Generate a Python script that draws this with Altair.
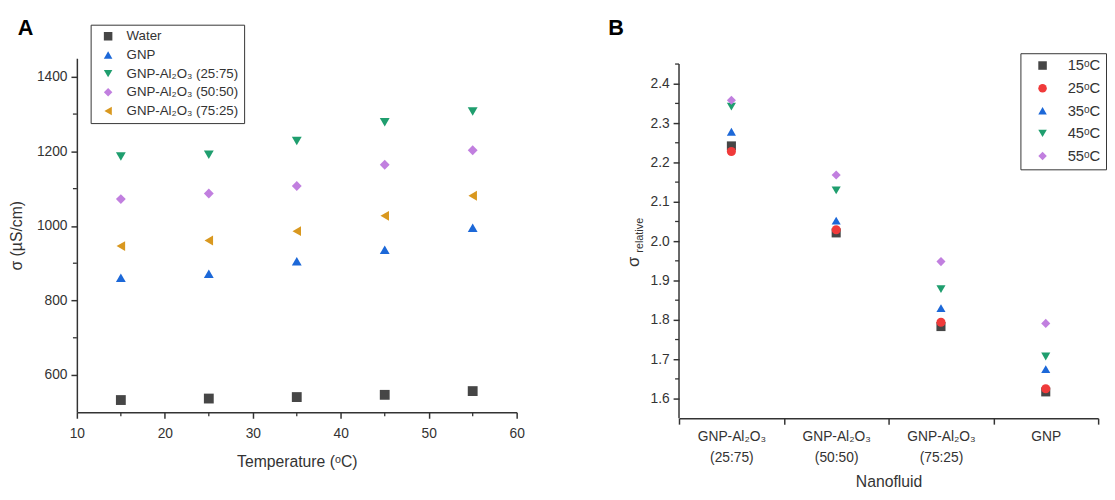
import altair as alt
import pandas as pd

# ---------------- Panel A data ----------------
temps = [15, 25, 35, 45, 55]
series_a = ["Water", "GNP", "GNP-Al₂O₃ (25:75)", "GNP-Al₂O₃ (50:50)", "GNP-Al₂O₃ (75:25)"]
water = [533, 537, 541, 547, 557]
gnp = [861, 872, 905, 936, 995]
gnp_25_75 = [1186, 1191, 1228, 1278, 1307]
gnp_50_50 = [1072, 1087, 1107, 1164, 1203]
gnp_75_25 = [946, 961, 986, 1027, 1081]
colors_a = ["#464646", "#1c68d8", "#1f9e6e", "#c17fdf", "#d9981f"]
shapes_a = ["square", "triangle-up", "triangle-down", "diamond", "triangle-left"]
x_ticks_a = [10, 20, 30, 40, 50, 60]
x_minor_a = [15, 25, 35, 45, 55]
y_ticks_a = [600, 800, 1000, 1200, 1400]
y_minor_a = [700, 900, 1100, 1300]

# ---------------- Panel B data ----------------
nanofluids = ["GNP-Al₂O₃|(25:75)", "GNP-Al₂O₃|(50:50)", "GNP-Al₂O₃|(75:25)", "GNP"]
temp_labels = ["15ᵒC", "25ᵒC", "35ᵒC", "45ᵒC", "55ᵒC"]
rel_15 = [2.242, 2.021, 1.783, 1.617]
rel_25 = [2.228, 2.029, 1.794, 1.625]
rel_35 = [2.278, 2.052, 1.830, 1.675]
rel_45 = [2.342, 2.129, 1.878, 1.707]
rel_55 = [2.358, 2.168, 1.948, 1.791]
colors_b = ["#464646", "#f03a3a", "#1c68d8", "#1f9e6e", "#c17fdf"]
shapes_b = ["square", "circle", "triangle-up", "triangle-down", "diamond"]
y_ticks_b = [1.6, 1.7, 1.8, 1.9, 2.0, 2.1, 2.2, 2.3, 2.4]
y_minor_b = [1.65, 1.75, 1.85, 1.95, 2.05, 2.15, 2.25, 2.35, 2.45]
y_axis_b = [1.55, 2.45]

FONT = "Liberation Sans"
INK = "#333333"

# ---------------- build tables ----------------
rows_a = []
for name, vals in zip(series_a, [water, gnp, gnp_25_75, gnp_50_50, gnp_75_25]):
    for t, v in zip(temps, vals):
        rows_a.append({"temp": t, "sigma": v, "series": name})
df_a = pd.DataFrame(rows_a)

rows_b = []
for lab, vals in zip(temp_labels, [rel_15, rel_25, rel_35, rel_45, rel_55]):
    for nf, v in zip(nanofluids, vals):
        rows_b.append({"nf": nf, "rel": v, "temp": lab})
df_b = pd.DataFrame(rows_b)

W_A, H_A = 447, 360
W_B, H_B = 426, 366

xs_a = alt.Scale(domain=[10, 60], nice=False, zero=False)
ys_a = alt.Scale(domain=[500, 1450], nice=False, zero=False)
ax_x_a = alt.Axis(values=x_ticks_a, title="Temperature (ᵒC)", format="d",
                  labelPadding=9, titlePadding=13, labelFlush=False)
ax_y_a = alt.Axis(values=y_ticks_a, title="σ (µS/cm)", format="d", titlePadding=12)

legend_a = alt.Legend(
    title=None, orient="none", legendX=14, legendY=-34,
    strokeColor=INK, fillColor="white", padding=5,
    labelFont=FONT, labelFontSize=13.5, labelColor=INK,
    symbolSize=75, symbolOffset=6, labelOffset=12, rowPadding=4,
    symbolStrokeWidth=0,
)

pts_a = alt.Chart(df_a).mark_point(filled=True, size=100, opacity=1).encode(
    x=alt.X("temp:Q", scale=xs_a, axis=ax_x_a),
    y=alt.Y("sigma:Q", scale=ys_a, axis=ax_y_a),
    color=alt.Color("series:N", scale=alt.Scale(domain=series_a, range=colors_a), legend=legend_a),
    shape=alt.Shape("series:N", scale=alt.Scale(domain=series_a, range=shapes_a), legend=legend_a),
)
minx_a = alt.Chart(pd.DataFrame({"temp": x_minor_a})).mark_rule(color=INK, strokeWidth=1.3).encode(
    x=alt.X("temp:Q", scale=xs_a, axis=ax_x_a), y=alt.value(H_A), y2=alt.value(H_A + 4))
miny_a = alt.Chart(pd.DataFrame({"sigma": y_minor_a})).mark_rule(color=INK, strokeWidth=1.3).encode(
    y=alt.Y("sigma:Q", scale=ys_a, axis=ax_y_a), x=alt.value(0), x2=alt.value(-4))
lab_a = alt.Chart(pd.DataFrame({"t": ["A"]})).mark_text(
    font=FONT, fontSize=22, fontWeight="bold", align="left", baseline="alphabetic", color="black"
).encode(text="t:N", x=alt.value(-60), y=alt.value(-24))

panel_a = alt.layer(pts_a, minx_a, miny_a, lab_a).properties(width=W_A, height=H_A)

# ---------------- Panel B ----------------
xs_b = alt.Scale(domain=nanofluids, paddingInner=0, paddingOuter=0)
ys_b = alt.Scale(domain=[1.55, 2.465], nice=False, zero=False)
ax_y_b = alt.Axis(values=y_ticks_b, title=None, format=".1f", domain=False)

legend_b = alt.Legend(
    title=None, orient="none", legendX=347, legendY=-5,
    strokeColor=INK, fillColor="white", padding=5,
    labelFont=FONT, labelFontSize=15, labelColor=INK,
    symbolSize=75, symbolOffset=10, labelOffset=18, rowPadding=7,
    symbolStrokeWidth=0,
)

pts_b = alt.Chart(df_b).mark_point(filled=True, size=85, opacity=1).encode(
    x=alt.X("nf:N", scale=xs_b, sort=nanofluids,
            axis=alt.Axis(title="Nanofluid", labelAngle=0, tickBand="extent",
                          labelExpr="split(datum.label, '|')", labelLineHeight=21,
                          labelPadding=6, titlePadding=9)),
    y=alt.Y("rel:Q", scale=ys_b, axis=ax_y_b),
    color=alt.Color("temp:N", scale=alt.Scale(domain=temp_labels, range=colors_b), legend=legend_b),
    shape=alt.Shape("temp:N", scale=alt.Scale(domain=temp_labels, range=shapes_b), legend=legend_b),
)
axis_line_b = alt.Chart(pd.DataFrame({"rel": [y_axis_b[0]], "rel2": [y_axis_b[1]]})).mark_rule(
    color=INK, strokeWidth=1.5).encode(
    y=alt.Y("rel:Q", scale=ys_b, axis=ax_y_b), y2="rel2:Q", x=alt.value(0))
miny_b = alt.Chart(pd.DataFrame({"rel": y_minor_b})).mark_rule(color=INK, strokeWidth=1.3).encode(
    y=alt.Y("rel:Q", scale=ys_b, axis=ax_y_b), x=alt.value(0), x2=alt.value(-4))
lab_b = alt.Chart(pd.DataFrame({"t": ["B"]})).mark_text(
    font=FONT, fontSize=22, fontWeight="bold", align="left", baseline="alphabetic", color="black"
).encode(text="t:N", x=alt.value(-72), y=alt.value(-24))
sig_b = alt.Chart(pd.DataFrame({"t": ["σ"]})).mark_text(
    font=FONT, fontSize=17, align="center", baseline="middle", angle=270, color=INK
).encode(text="t:N", x=alt.value(-46), y=alt.value(207))
sub_b = alt.Chart(pd.DataFrame({"t": ["relative"]})).mark_text(
    font=FONT, fontSize=11, align="center", baseline="middle", angle=270, color=INK
).encode(text="t:N", x=alt.value(-40), y=alt.value(180))

panel_b = alt.layer(pts_b, axis_line_b, miny_b, lab_b, sig_b, sub_b).properties(width=W_B, height=H_B)

chart = alt.hconcat(panel_a, panel_b, spacing=85).resolve_scale(
    color="independent", shape="independent"
).properties(
    padding={"left": 0, "top": 5, "right": 0, "bottom": 0}
).configure(font=FONT).configure_view(stroke=None).configure_axis(
    grid=False, domainColor=INK, domainWidth=1.5, tickColor=INK, tickWidth=1.5, tickSize=6,
    labelColor=INK, labelFont=FONT, labelFontSize=14, titleColor=INK, titleFont=FONT,
    titleFontSize=16, titleFontWeight="normal", labelPadding=4,
)

chart.save("out.html", embed_options={"renderer": "svg", "actions": False})
